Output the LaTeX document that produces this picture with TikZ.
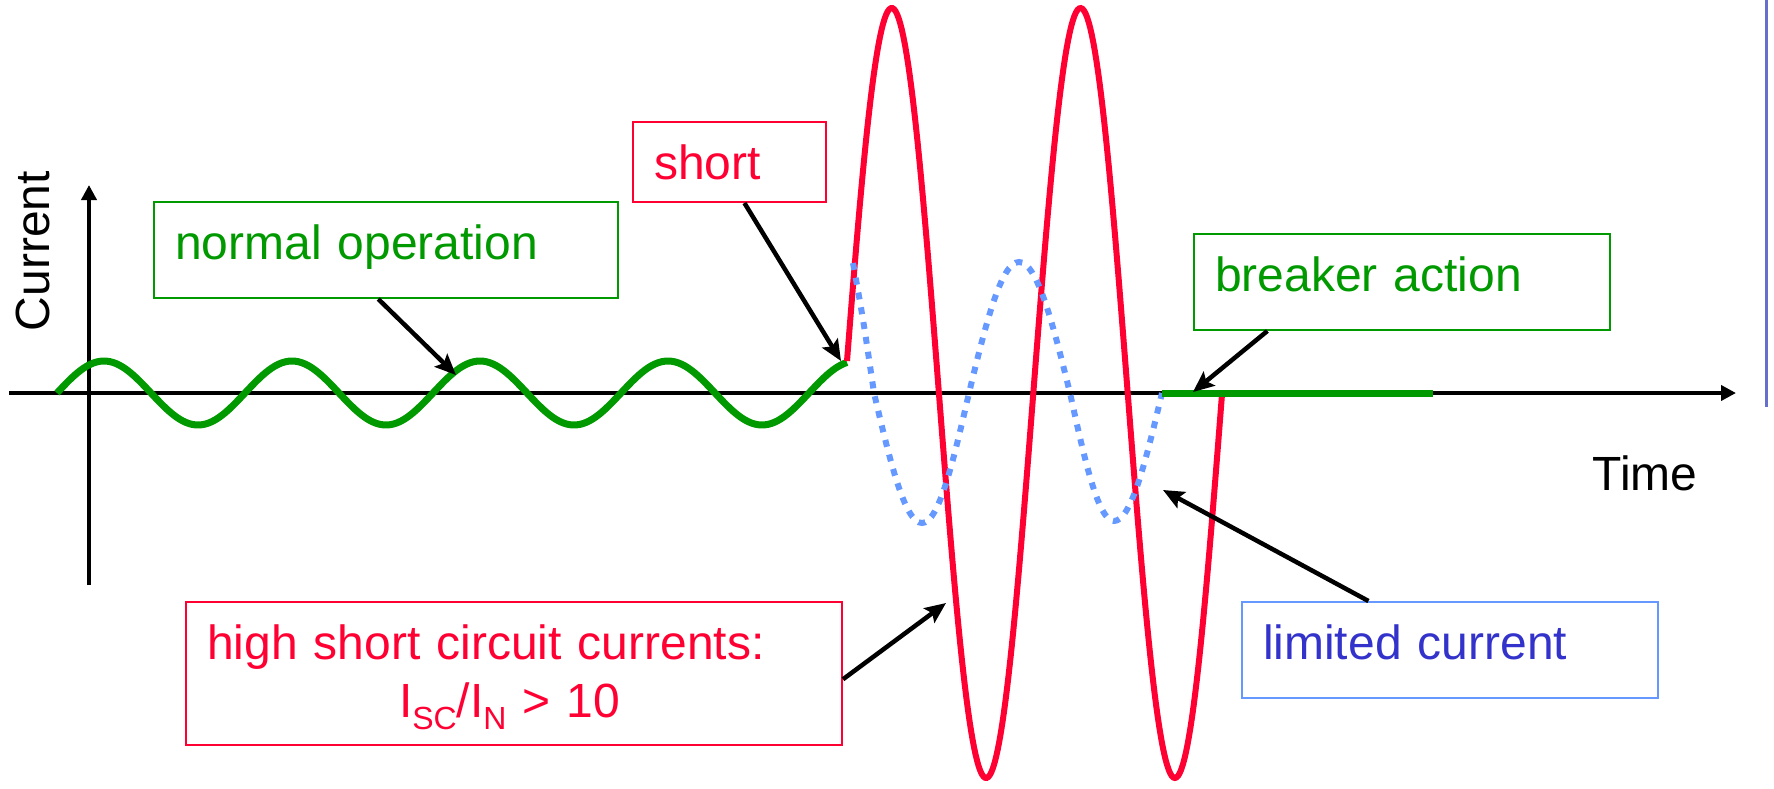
\documentclass[tikz,border=0pt]{standalone}
\usepackage{fontspec}
\setmainfont{Liberation Sans}
\usepackage{tikz}
\usetikzlibrary{arrows.meta}

\definecolor{okgreen}{RGB}{0,153,0}
\definecolor{scred}{RGB}{255,0,51}
\definecolor{limblue}{RGB}{102,153,255}
\definecolor{limtext}{RGB}{51,51,204}
\definecolor{edgeblue}{RGB}{102,112,204}

\newcommand{\lowidx}[1]{\raisebox{-12pt}{\fontsize{32}{32}\selectfont #1}}

\begin{document}
\begin{tikzpicture}[
    x=1pt, y=-1pt,
    box/.style={draw, line width=2pt, anchor=north west, align=left, inner xsep=21pt, inner ysep=22pt,
        text height=35pt, text depth=17pt, font=\fontsize{48}{58}\selectfont},
    axis/.style={line width=4pt, -{Triangle[length=15pt, width=15pt]}},
    arrow/.style={line width=4.5pt, -{Stealth[length=21pt, width=18pt, inset=4pt]}},
    wave/.style={line width=6pt},
    axlabel/.style={font=\fontsize{48}{58}\selectfont},
]
\useasboundingbox (0,0) rectangle (1774,788);

% axes
\draw[axis] (9,393) -- (1736,393);
\draw[axis] (89,585) -- (89,185);
\node[axlabel, rotate=90] (curlbl) at (33,251) {Current};
\node[axlabel] (timelbl) at (1645,473) {Time};

% waveforms
\draw[wave, line width=7pt, okgreen] plot[domain=57:847, samples=240] (\x, {393-32*sin(1.91489*(\x-57))});
\draw[wave, scred] plot[domain=847:1222, samples=240] (\x, {393-385*sin(1.90678*(\x-844.5))});
\draw[wave, limblue, dash pattern=on 7pt off 8pt]
    (853,263) .. controls (863,318) .. (874,393) sin (922,523) cos (969,393)
    sin (1019,262) cos (1070,393) sin (1114,521) cos (1162,393);
\draw[okgreen, line width=7pt] (1162,393) -- (1433,393);
\draw[edgeblue, line width=3pt] (1766,0) -- (1766,407);

% callouts
\node[box, okgreen, text width=422pt] (normal) at (153,201) {normal operation};
\node[box, scred, text width=151pt, text depth=1pt] (short) at (632,121) {short};
\node[box, okgreen, text width=374pt] (breaker) at (1193,233) {breaker action};
\node[box, draw=limblue, text=limtext, text width=374pt] (limited) at (1241,601) {limited current};
\node[box, scred, text width=614pt, text depth=64pt] (high) at (185,601)
    {high short circuit currents:\\\hspace*{192pt}I\lowidx{SC}/I\lowidx{N} > 10};

\coordinate (normtip) at (456,375);
\coordinate (shorttip) at (841,361);
\coordinate (breaktip) at (1193,392);
\coordinate (limtip) at (1163,490);
\coordinate (hightip) at (946,603);

\draw[arrow] (normal.-99.5) -- (normtip);
\draw[arrow] (short.-70) -- (shorttip);
\draw[arrow] (breaker.200.6) -- (breaktip);
\draw[arrow] (limited.149.4) -- (limtip);
\draw[arrow] (high.-1) -- (hightip);
\end{tikzpicture}
\end{document}
